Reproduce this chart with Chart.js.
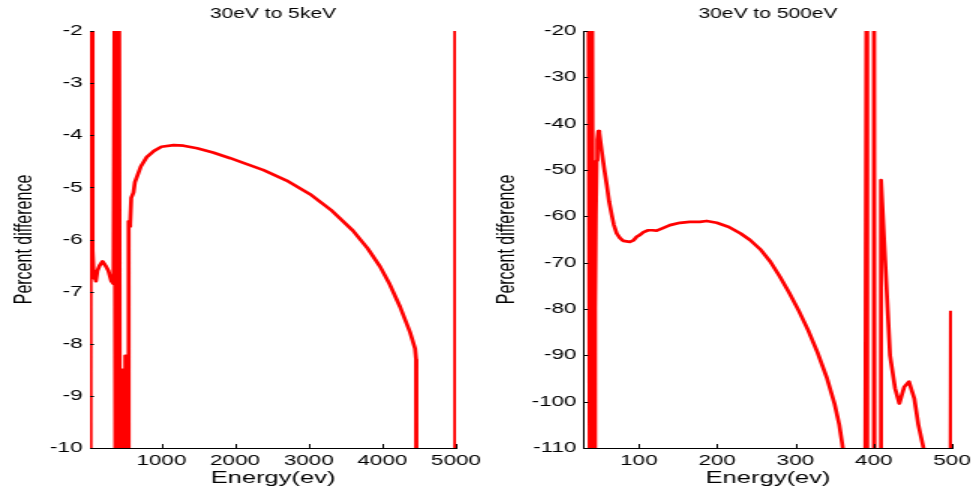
<!DOCTYPE html>
<html>
<head>
<meta charset="utf-8">
<script src="https://cdn.jsdelivr.net/npm/chart.js@4"></script>
<style>
  html, body { margin: 0; padding: 0; background: #fff; }
  body { width: 973px; height: 491px; position: relative; overflow: hidden; }
  /* both panels are drawn narrow and widened 1.5x, like the exported figure */
  canvas { position: absolute; top: 0; transform: scaleX(1.5); transform-origin: 0 0; }
  #wide { left: 0; }
  #low { left: 487px; }
</style>
</head>
<body>
<canvas id="wide" width="324" height="491"></canvas>
<canvas id="low" width="324" height="491"></canvas>
<script>
// 30 eV .. 5 keV
const wideEnergy = [30, 32, 35, 38, 41, 52, 60, 70, 80, 90, 100, 110, 130, 160, 200, 240, 280, 320, 350,
  365, 380, 395, 410, 425, 440, 455, 465, 470, 490, 500, 510, 530, 540, 555, 565, 575, 590, 620,
  640, 680, 720, 800, 900, 1000, 1166, 1300, 1484, 1700, 1935, 2150, 2387, 2700, 3018, 3300, 3600,
  3800, 3969, 4100, 4240, 4376, 4444, 4458, 4462, 4980, 4985, 4995, 5000];
const wideDiff = [5, -15, 5, -15, 5, -1.5, -5.0, -6.2, -6.7, -6.75, -6.7, -6.8, -6.6, -6.5, -6.42, -6.5, -6.6, -6.8, -6.85,
  -1, -15, -1, -15, -1, -15, -9.5, -15, -8.5, -8.5, -10.5, -8.23, -8.23, -10.5, -5.65, -5.75, -5.7, -5.2, -5.1,
  -4.9, -4.75, -4.6, -4.42, -4.3, -4.22, -4.19, -4.2, -4.25, -4.33, -4.44, -4.55, -4.67, -4.87, -5.13, -5.43, -5.83,
  -6.17, -6.52, -6.86, -7.29, -7.78, -8.09, -8.3, -15, -15, 5, -9.9, -9.85];
const wideXTicks = [1000, 2000, 3000, 4000, 5000];

// 30 eV .. 500 eV
const lowEnergy = [30, 35.5, 37.5, 40, 42, 43, 44, 45, 46, 47, 48.3, 49.5, 51, 52.6, 56, 59, 62, 65.4, 68, 71.8, 76,
  80.2, 88.7, 93, 97.3, 101.5, 106, 112, 117, 122.8, 130, 139.8, 152.6, 165, 178, 186.7, 199.5, 215, 230,
  242, 255, 268, 280, 292, 304, 316, 328, 340, 350, 356, 361, 363, 389, 391, 391.6, 399.6, 400.3, 401, 408.8,
  409.3, 414.4, 420.8, 427.2, 432.7, 439, 445, 451.8, 457, 464.2, 466, 498, 498.7];
const lowDiff = [10, 10, -130, 10, -130, -110, -80, -60, -48, -43.5, -41.6, -42, -44, -46, -50, -53.2, -56.8, -59.7, -61.8, -63.7, -64.7,
  -65.3, -65.5, -65.2, -64.4, -64, -63.4, -63, -63, -63.1, -62.6, -61.9, -61.4, -61.2, -61.2, -61, -61.4, -62.3, -63.7,
  -65.1, -67.1, -69.8, -73, -76.5, -80.3, -84.5, -89.3, -94.8, -100.5, -105, -110.5, -130, -130, 10, -130, -130, 10, -130, -130,
  -52.2, -69, -90, -97.1, -100.4, -96.8, -95.7, -99.3, -105, -110.5, -130, -130, -80.4];
const lowXTicks = [100, 200, 300, 400, 500];

const panelTitles = ['30eV to 5keV', '30eV to 500eV'];
const xTitle = 'Energy(ev)';
const yTitle = 'Percent difference';

const FONT = '"Liberation Sans", Arial, Helvetica, sans-serif';

// short tick marks pointing into the plot, plus the panel title
const innerTicks = {
  id: 'innerTicks',
  afterDraw(chart, args, opts) {
    const { ctx, chartArea, scales: { x, y } } = chart;
    ctx.save();
    ctx.strokeStyle = '#000';
    ctx.lineWidth = 1;
    ctx.beginPath();
    x.ticks.forEach(t => {
      const px = Math.round(x.getPixelForValue(t.value)) + 0.5;
      ctx.moveTo(px, chartArea.bottom);
      ctx.lineTo(px, chartArea.bottom - 4);
    });
    y.ticks.forEach(t => {
      const py = Math.round(y.getPixelForValue(t.value)) + 0.5;
      ctx.moveTo(chartArea.left, py);
      ctx.lineTo(chartArea.left + 2.7, py);
    });
    ctx.stroke();
    ctx.fillStyle = '#000';
    ctx.font = '14px ' + FONT;
    ctx.textAlign = 'center';
    ctx.textBaseline = 'middle';
    ctx.fillText(opts.title, (chartArea.left + chartArea.right) / 2, 14);
    ctx.restore();
  }
};

function makePanel(id, energy, diff, xMin, xMax, xTicks, yMin, yMax, yStep, title, yWidth, rightPad, yTitlePad) {
  return new Chart(document.getElementById(id), {
    type: 'line',
    data: {
      datasets: [{
        data: energy.map((e, i) => ({ x: e, y: diff[i] })),
        borderColor: '#ff0000',
        borderWidth: 2.7,
        borderJoinStyle: 'round',
        pointRadius: 0,
        tension: 0,
        fill: false
      }]
    },
    options: {
      responsive: false,
      animation: false,
      events: [],
      layout: { padding: { top: 31, right: rightPad, left: 0, bottom: 0 } },
      plugins: {
        legend: { display: false },
        tooltip: { enabled: false },
        innerTicks: { title: title }
      },
      scales: {
        x: {
          type: 'linear',
          min: xMin,
          max: xMax,
          afterBuildTicks: s => { s.ticks = xTicks.map(v => ({ value: v })); },
          // labels may hang past the plot edge; keep the plot width fixed
          afterFit: s => { s.height = 43; s.paddingLeft = 0; s.paddingRight = 0; },
          grid: { display: false, drawTicks: false },
          border: { display: true, color: '#000', width: 1 },
          ticks: {
            color: '#000', font: { family: FONT, size: 15 }, padding: 4, maxRotation: 0, autoSkip: false,
            callback: v => String(v)
          },
          title: { display: true, text: xTitle, color: '#000', font: { family: FONT, size: 17 }, padding: { top: 2, bottom: 2 } }
        },
        y: {
          type: 'linear',
          min: yMin,
          max: yMax,
          afterFit: s => { s.width = yWidth; s.paddingTop = 0; s.paddingBottom = 0; },
          grid: { display: false, drawTicks: false },
          border: { display: true, color: '#000', width: 1 },
          ticks: { stepSize: yStep, color: '#000', font: { family: FONT, size: 15 }, padding: 5, callback: v => String(v) },
          title: { display: true, text: yTitle, color: '#000', font: { family: FONT, size: 16 }, padding: { top: yTitlePad, bottom: 0 } }
        }
      }
    },
    plugins: [innerTicks]
  });
}

makePanel('wide', wideEnergy, wideDiff, 30, 5000, wideXTicks, -10, -2, 1, panelTitles[0], 60, 20, 7);
makePanel('low', lowEnergy, lowDiff, 30, 500, lowXTicks, -110, -20, 10, panelTitles[1], 64.67, 14, 3.7);
</script>
</body>
</html>
